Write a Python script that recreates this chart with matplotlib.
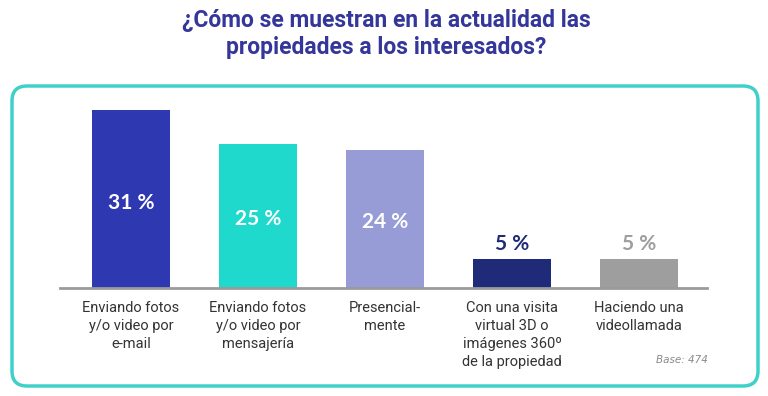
import matplotlib
matplotlib.use("Agg")
import matplotlib.pyplot as plt
from matplotlib.patches import FancyBboxPatch

# datos
categorias = ["Enviando fotos\ny/o video por\ne-mail",
              "Enviando fotos\ny/o video por\nmensajería",
              "Presencial-\nmente",
              "Con una visita\nvirtual 3D o\nimágenes 360º\nde la propiedad",
              "Haciendo una\nvideollamada"]
valores = [31, 25, 24, 5, 5]
etiquetas = ["31 %", "25 %", "24 %", "5 %", "5 %"]
colores = ["#2e38b0", "#1fd9cc", "#979bd6", "#1f2a78", "#9e9e9e"]

titulo = "¿Cómo se muestran en la actualidad las\npropiedades a los interesados?"
narrow = ["Roboto", "DejaVu Sans"]

fig = plt.figure(figsize=(7.68, 3.96), dpi=100)

# capa de fondo en pixeles para el recuadro redondeado
bg = fig.add_axes([0, 0, 1, 1])
bg.set_xlim(0, 768)
bg.set_ylim(396, 0)
bg.axis("off")
bg.add_patch(FancyBboxPatch((12, 86), 746, 300,
                            boxstyle="round,pad=0,rounding_size=15",
                            fill=False, edgecolor="#3fd1c9", linewidth=2.5))
bg.text(386, 34, titulo, ha="center", va="center", fontsize=16.5,
        fontweight="bold", color="#34369a", family=narrow, linespacing=1.2)
bg.text(708, 360, "Base: 474", ha="right", va="center", fontsize=7.5,
        style="italic", color="#8a8a8a", family=["DejaVu Sans"])

# grafico de barras
ax = fig.add_axes([60 / 768, 108 / 396, 647 / 768, 188 / 396])
x = range(len(valores))
ax.bar(x, valores, width=0.614, color=colores)
ax.set_xlim(-0.559, 4.535)
ax.set_ylim(0, 32.75)
ax.set_yticks([])
for s in ["top", "right", "left"]:
    ax.spines[s].set_visible(False)
ax.spines["bottom"].set_color("#9a9a9a")
ax.spines["bottom"].set_linewidth(2)
ax.patch.set_alpha(0)

ax.set_xticks(list(x))
ax.set_xticklabels(categorias, fontsize=10.5, color="#333333",
                   family=narrow, linespacing=1.38, va="top")
ax.tick_params(axis="x", length=0, pad=9)

for i, (v, lab) in enumerate(zip(valores, etiquetas)):
    if v > 10:
        ax.text(i, v * 0.48, lab, ha="center", va="center", fontsize=15,
                fontweight="bold", color="white", family=["Lato", "DejaVu Sans"])
    else:
        ax.text(i, v + 0.9, lab, ha="center", va="bottom", fontsize=15,
                fontweight="bold", color=colores[i], family=["Lato", "DejaVu Sans"])

fig.savefig("out.png", dpi=100)
